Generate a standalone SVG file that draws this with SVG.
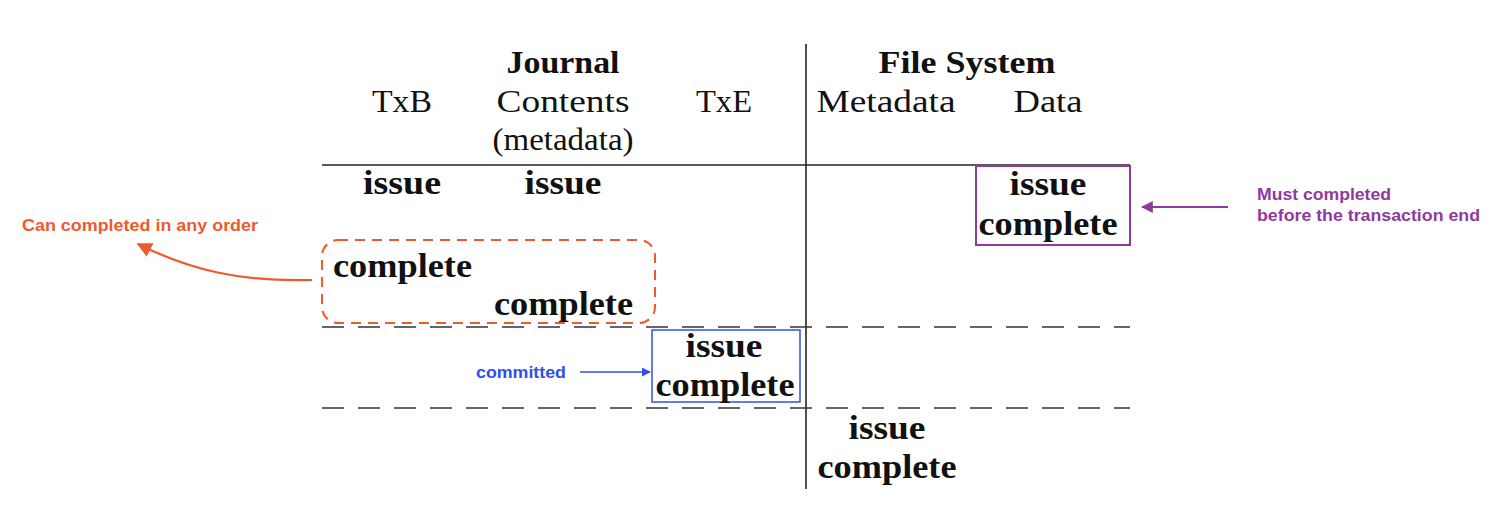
<svg xmlns="http://www.w3.org/2000/svg" width="1507" height="509" viewBox="0 0 1507 509">
<style>
.h{font-family:"Liberation Serif","DejaVu Serif",serif;font-size:32px;fill:#111;}
.hb{font-family:"Liberation Serif","DejaVu Serif",serif;font-size:32px;font-weight:bold;fill:#111;}
.b{font-family:"Liberation Serif","DejaVu Serif",serif;font-size:33px;font-weight:bold;fill:#111;}
.note{font-family:"Liberation Sans",Arial,sans-serif;font-size:16px;font-weight:bold;}
.grid{stroke:#222;stroke-width:1.6;fill:none;}
.dash{stroke:#333;stroke-width:1.6;stroke-dasharray:22 14;fill:none;}
</style>
<defs>
<marker id="ao" viewBox="0 0 10 10" refX="9" refY="5" markerWidth="15" markerHeight="15" orient="auto" markerUnits="userSpaceOnUse"><path d="M0,0 L10,5 L0,10 z" fill="#ef5a2c"/></marker>
<marker id="ap" viewBox="0 0 10 10" refX="9" refY="5" markerWidth="12" markerHeight="12" orient="auto" markerUnits="userSpaceOnUse"><path d="M0,0 L10,5 L0,10 z" fill="#8e3a9e"/></marker>
<marker id="ab" viewBox="0 0 10 10" refX="9" refY="5" markerWidth="9" markerHeight="9" orient="auto" markerUnits="userSpaceOnUse"><path d="M0,0 L10,5 L0,10 z" fill="#2f4ef2"/></marker>
</defs>
<rect width="1507" height="509" fill="#fff"/>
<g id="grid">
<line class="grid" x1="806" y1="44" x2="806" y2="489"/>
<line class="grid" x1="322" y1="165" x2="1130" y2="165"/>
<line class="dash" x1="322" y1="327" x2="1130" y2="327"/>
<line class="dash" x1="322" y1="408" x2="1130" y2="408"/>
</g>
<g id="headers" text-anchor="middle">
<text class="hb" x="563" y="73" textLength="113" lengthAdjust="spacingAndGlyphs">Journal</text>
<text class="hb" x="967" y="73" textLength="177" lengthAdjust="spacingAndGlyphs">File System</text>
<text class="h" x="402" y="112" textLength="60" lengthAdjust="spacingAndGlyphs">TxB</text>
<text class="h" x="563" y="112" textLength="133" lengthAdjust="spacingAndGlyphs">Contents</text>
<text class="h" x="724" y="112" textLength="56" lengthAdjust="spacingAndGlyphs">TxE</text>
<text class="h" x="886" y="112" textLength="139" lengthAdjust="spacingAndGlyphs">Metadata</text>
<text class="h" x="1048" y="112" textLength="69" lengthAdjust="spacingAndGlyphs">Data</text>
<text class="h" x="563" y="150" textLength="141" lengthAdjust="spacingAndGlyphs">(metadata)</text>
</g>
<g id="txb-issue" text-anchor="middle"><text class="b" x="402" y="194" textLength="78" lengthAdjust="spacingAndGlyphs">issue</text></g>
<g id="journal-issue" text-anchor="middle"><text class="b" x="563" y="194" textLength="77" lengthAdjust="spacingAndGlyphs">issue</text></g>
<g id="data-node" text-anchor="middle">
<rect x="976" y="166" width="154" height="79" fill="none" stroke="#8e3a9e" stroke-width="2"/>
<text class="b" x="1048" y="195" textLength="77" lengthAdjust="spacingAndGlyphs">issue</text>
<text class="b" x="1048" y="235" textLength="139" lengthAdjust="spacingAndGlyphs">complete</text>
</g>
<g id="any-order-node">
<rect x="322" y="240" width="333" height="83" rx="16" fill="none" stroke="#ef5a2c" stroke-width="2" stroke-dasharray="10 7"/>
<text class="b" x="333" y="277" textLength="139" lengthAdjust="spacingAndGlyphs">complete</text>
<text class="b" x="494" y="315" textLength="139" lengthAdjust="spacingAndGlyphs">complete</text>
</g>
<g id="txe-node" text-anchor="middle">
<rect x="652" y="330" width="148" height="72" fill="none" stroke="#3a5cf0" stroke-width="1.6"/>
<text class="b" x="724" y="357" textLength="77" lengthAdjust="spacingAndGlyphs">issue</text>
<text class="b" x="725" y="396" textLength="139" lengthAdjust="spacingAndGlyphs">complete</text>
</g>
<g id="metadata-node" text-anchor="middle">
<text class="b" x="887" y="439" textLength="77" lengthAdjust="spacingAndGlyphs">issue</text>
<text class="b" x="887" y="478" textLength="139" lengthAdjust="spacingAndGlyphs">complete</text>
</g>
<g id="note-order"><text class="note" x="22" y="231" fill="#ef5a2c" textLength="236" lengthAdjust="spacingAndGlyphs">Can completed in any order</text></g>
<g id="note-must">
<text class="note" x="1257" y="200" fill="#8e3a9e" textLength="134" lengthAdjust="spacingAndGlyphs">Must completed</text>
<text class="note" x="1257" y="221" fill="#8e3a9e" textLength="223" lengthAdjust="spacingAndGlyphs">before the transaction end</text>
</g>
<g id="note-committed"><text class="note" x="476" y="378" fill="#2f4ef2" textLength="90" lengthAdjust="spacingAndGlyphs">committed</text></g>
<g id="connectors" fill="none">
<path d="M312,280 C240,282 190,270 138,244" stroke="#ef5a2c" stroke-width="2.2" marker-end="url(#ao)"/>
<path d="M1228,207 L1142,207" stroke="#8e3a9e" stroke-width="2" marker-end="url(#ap)"/>
<path d="M580,372 L650,372" stroke="#2f4ef2" stroke-width="1.6" marker-end="url(#ab)"/>
</g>
</svg>
